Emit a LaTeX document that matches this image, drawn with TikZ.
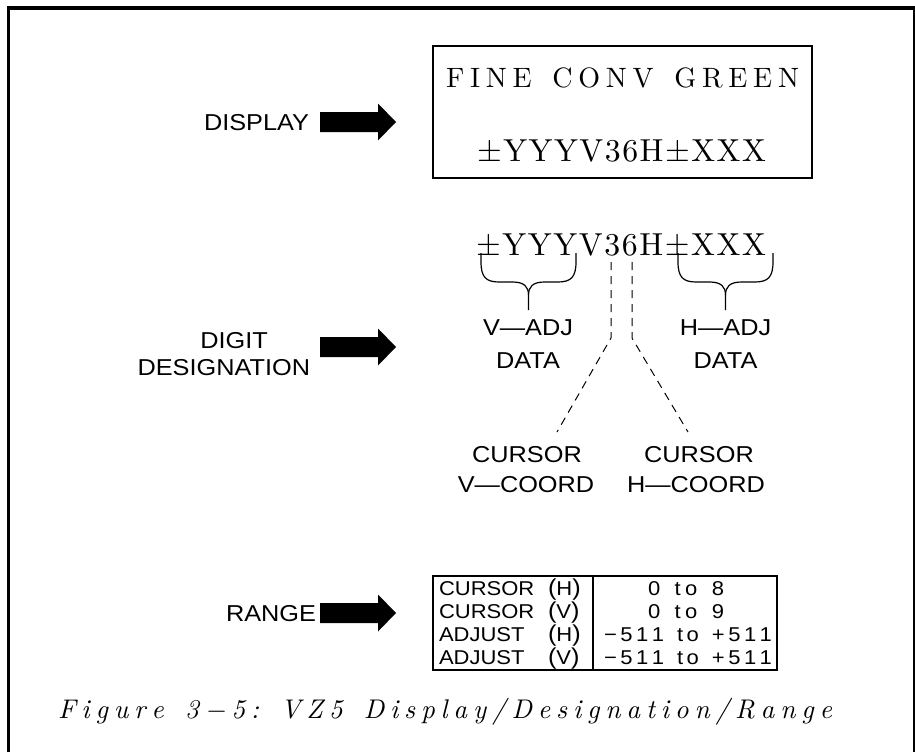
\documentclass[tikz,border=0pt]{standalone}
\usepackage{fontspec}
\newfontfamily\lblfam[FakeStretch=1.1]{Liberation Sans}
\newfontfamily\lmR{lmroman10-regular.otf}
\newfontfamily\lmI{lmroman10-italic.otf}
\newcommand\lblsize{\lblfam\fontsize{23}{26}\selectfont}
\newcommand\tabsize{\lblfam\fontsize{20}{24}\selectfont}
\newcommand\dispA{\lmR\fontsize{28}{30}\selectfont}
\newcommand\dispB{\lmR\fontsize{31.8}{36}\selectfont}
\newcommand\capfont{\lmI\fontsize{27}{30}\selectfont}
\newcommand\bpar[1]{{\fontsize{23}{26}\selectfont(}#1{\fontsize{23}{26}\selectfont)}}
\makeatletter
\newdimen\rsw \newcount\rsn \newdimen\rsk
\newcommand\spreadto[2]{%
  \rsw=0pt \rsn=0
  \@tfor\rst:=#2\do{\setbox0\hbox{\rst}\advance\rsw by \wd0 \advance\rsn by 1 }%
  \rsk=#1\relax \advance\rsk by -\rsw
  \advance\rsn by -1
  \ifnum\rsn>0 \divide\rsk by \rsn \fi
  \@tfor\rst:=#2\do{\rst\kern\rsk}\kern-\rsk}
\makeatother
\tikzset{
  txt/.style={inner sep=0pt, outer sep=0pt},
  thinline/.style={line width=1.2pt},
  dashline/.style={line width=1pt, dash pattern=on 8pt off 6pt},
  frameline/.style={line width=3.5pt}
}
\newcommand\blockarr[1]{\fill (#1) ++(0,-10) -- ++(58,0) -- ++(0,-8.5) -- ++(18,18.5) -- ++(-18,18.5) -- ++(0,-8.5) -- ++(-58,0) -- cycle;}
\begin{document}
\begin{tikzpicture}[x=1pt,y=-1pt]
\useasboundingbox (0,0) rectangle (915,752);
% frame
\draw[frameline] (8.5,752) -- (8.5,8) -- (915,8);
\draw[line width=2pt] (914,8) -- (914,752);

% left labels and arrows
\node[txt, anchor=base east, font=\lblsize] (ldisp) at (309,130) {DISPLAY};
\coordinate (adisp) at (320,122);
\blockarr{adisp}
\node[txt, anchor=base east, font=\lblsize] (ldesig) at (310,375) {DESIGNATION};
\node[txt, anchor=base, font=\lblsize] (ldigit) at (234,348) {DIGIT};
\coordinate (adigit) at (320,347);
\blockarr{adigit}
\node[txt, anchor=base east, font=\lblsize] (lrange) at (316,621) {RANGE};
\coordinate (arange) at (320,613);
\blockarr{arange}

% display box
\node[draw, thinline, minimum width=379pt, minimum height=132pt, inner sep=0pt] (dbox) at (622.5,112) {};
\node[txt, anchor=base, font=\dispA] (dl1) at (622.5,87) {\spreadto{353pt}{FINE\ CONV\ GREEN}};
\node[txt, anchor=base, font=\dispB] (dl2) at (621.5,161) {\spreadto{289pt}{±YYYV36H±XXX}};

% digit designation
\node[txt, anchor=base, font=\dispB] (code) at (621,255) {\spreadto{290pt}{±YYYV36H±XXX}};
% braces
\draw[thinline] (481,253) -- (481,262) .. controls (481,277) and (486,282) .. (499,282) -- (512.5,282) .. controls (524.5,282) and (528.5,287) .. (528.5,295) -- (528.5,310);
\draw[thinline] (528.5,295) .. controls (528.5,287) and (532.5,282) .. (544.5,282) -- (558,282) .. controls (571,282) and (576,277) .. (576,262) -- (576,253);
\draw[thinline] (678,253) -- (678,262) .. controls (678,277) and (683,282) .. (696,282) -- (709.5,282) .. controls (721.5,282) and (725.5,287) .. (725.5,295) -- (725.5,310);
\draw[thinline] (725.5,295) .. controls (725.5,287) and (729.5,282) .. (741.5,282) -- (755,282) .. controls (768,282) and (773,277) .. (773,262) -- (773,253);

\node[txt, anchor=base, font=\lblsize] (vadj) at (528,335) {V—ADJ};
\node[txt, anchor=base, font=\lblsize] (vdata) at (528,368) {DATA};
\node[txt, anchor=base, font=\lblsize] (hadj) at (725.5,335) {H—ADJ};
\node[txt, anchor=base, font=\lblsize] (hdata) at (725.5,368) {DATA};

\node[txt, anchor=base, font=\lblsize] (vcur) at (527,462) {CURSOR};
\node[txt, anchor=base, font=\lblsize] (vcoord) at (526,492) {V—COORD};
\node[txt, anchor=base, font=\lblsize] (hcur) at (699,462) {CURSOR};
\node[txt, anchor=base, font=\lblsize] (hcoord) at (696,492) {H—COORD};

\coordinate (d1a) at (611,262);
\coordinate (d1b) at (611,338);
\coordinate (d1c) at (557,432);
\coordinate (d2a) at (632,262);
\coordinate (d2b) at (632,338);
\coordinate (d2c) at (688,432);
\draw[dashline] (d1a) -- (d1b) -- (d1c);
\draw[dashline] (d2a) -- (d2b) -- (d2c);

% range table
\node[draw, thinline, minimum width=344pt, minimum height=94pt, inner sep=0pt] (tbl) at (605,623) {};
\draw[thinline] (tbl.north west -| 593,0) -- (tbl.south west -| 593,0);
\node[txt, anchor=base west, font=\tabsize] (r1) at (439,595) {\makebox[109pt][l]{CURSOR}\bpar{H}};
\node[txt, anchor=base west, font=\tabsize] (r2) at (439,618) {\makebox[109pt][l]{CURSOR}\bpar{V}};
\node[txt, anchor=base west, font=\tabsize] (r3) at (439,641) {\makebox[109pt][l]{ADJUST}\bpar{H}};
\node[txt, anchor=base west, font=\tabsize] (r4) at (439,664) {\makebox[109pt][l]{ADJUST}\bpar{V}};
\node[txt, anchor=base, font=\tabsize] (v1) at (686,595) {\spreadto{76pt}{0\ to\ 8}};
\node[txt, anchor=base, font=\tabsize] (v2) at (686,618) {\spreadto{76pt}{0\ to\ 9}};
\node[txt, anchor=base, font=\tabsize] (v3) at (688,641) {\spreadto{168pt}{−511\ to\ +511}};
\node[txt, anchor=base, font=\tabsize] (v4) at (688,664) {\spreadto{168pt}{−511\ to\ +511}};

% caption
\node[txt, anchor=base west, font=\capfont] (cap) at (58,718) {\spreadto{774pt}{Figure\ 3−5:\ VZ5\ Display/Designation/Range}};
\end{tikzpicture}
\end{document}
